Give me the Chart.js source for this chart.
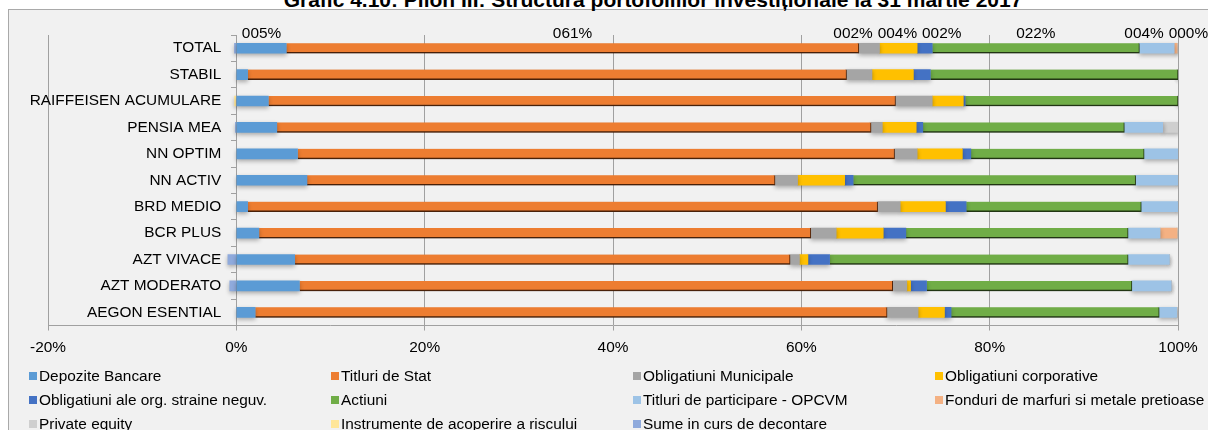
<!DOCTYPE html>
<html>
<head>
<meta charset="utf-8">
<script src="https://cdn.jsdelivr.net/npm/chart.js@4.4.1/dist/chart.umd.min.js"></script>
<style>
  body { margin: 0; background: #fff; width: 1208px; height: 430px; overflow: hidden; position: relative;
         font-family: 'Liberation Sans', Arial, sans-serif; }
  #frame { position: absolute; left: 8px; top: 9px; width: 1300px; height: 500px; border: 1px solid #a9a9a9; background: #f1f1f1; }
  #title { position: absolute; left: 0; width: 1306px; top: -10px; text-align: center; white-space: nowrap;
           font: bold 21px 'Liberation Sans', Arial, sans-serif; line-height: 20px; color: #000; }
  #wrap { position: absolute; left: 0; top: 0; width: 1208px; height: 365px; }
  #legend { position: absolute; left: 29px; top: 364px; display: grid; grid-template-columns: repeat(4, 302px);
            font-size: 15.4px; line-height: 24px; color: #000; }
  .item { display: flex; align-items: center; white-space: nowrap; }
  .box { width: 8px; height: 8px; margin-right: 2px; flex: none; }
</style>
</head>
<body>
<div id="frame"></div>
<div id="title">Grafic 4.10: Pilon III: Structura portofoliilor investiționale la 31 martie 2017</div>
<div id="wrap"><canvas id="chart"></canvas></div>
<div id="legend"></div>
<script>
/* ---- data (percent of portfolio) ---- */
const categories = ['TOTAL', 'STABIL', 'RAIFFEISEN ACUMULARE', 'PENSIA MEA', 'NN OPTIM', 'NN ACTIV',
                    'BRD MEDIO', 'BCR PLUS', 'AZT VIVACE', 'AZT MODERATO', 'AEGON ESENTIAL'];

const depozite    = [5.3, 1.2, 3.4, 4.3, 6.5, 7.5, 1.2, 2.4, 6.2, 6.7, 2.0];
const titluri     = [60.8, 63.6, 66.6, 63.1, 63.4, 49.7, 66.9, 58.6, 52.6, 63.0, 67.1];
const municipale  = [2.2, 2.7, 3.9, 1.2, 2.4, 2.4, 2.4, 2.7, 1.0, 1.5, 3.3];
const corporative = [4.0, 4.4, 3.3, 3.6, 4.8, 5.0, 4.8, 5.0, 0.9, 0.4, 2.8];
const straine     = [1.6, 1.8, 0.2, 0.7, 0.9, 0.9, 2.2, 2.4, 2.3, 1.7, 0.7];
const actiuni     = [22.0, 26.3, 22.6, 21.4, 18.4, 30.0, 18.6, 23.6, 31.7, 21.8, 22.1];
const opcvm       = [3.7, 0, 0, 4.1, 3.7, 4.5, 3.9, 3.4, 4.4, 4.2, 1.9];
const fonduri     = [0.3, 0, 0, 0, 0, 0, 0, 1.8, 0, 0, 0];
const privateEq   = [0.1, 0, 0, 1.7, 0, 0, 0, 0, 0, 0, 0];
const instrumente = [0, 0, -0.2, 0, 0, 0, 0, 0, 0, 0, 0];
const sume        = [-0.2, 0, 0, -0.1, 0, 0, 0, 0, -0.9, -0.7, 0];

const seriesNames = ['Depozite Bancare', 'Titluri de Stat', 'Obligatiuni Municipale', 'Obligatiuni corporative',
                     'Obligatiuni ale org. straine neguv.', 'Actiuni', 'Titluri de participare - OPCVM',
                     'Fonduri de marfuri si metale pretioase', 'Private equity', 'Instrumente de acoperire a riscului',
                     'Sume in curs de decontare'];
const seriesValues = [depozite, titluri, municipale, corporative, straine, actiuni, opcvm,
                      fonduri, privateEq, instrumente, sume];

const xTicks = [-20, 0, 20, 40, 60, 80, 100];

/* ---- styles ---- */
const seriesColors = ['#5B9BD5', '#ED7D31', '#A5A5A5', '#FFC000', '#4472C4', '#70AD47', '#9DC3E6',
                      '#F4B183', '#CFCFCF', '#FFE699', '#8FAADC'];
const edgeColors = { 1: '#5c2a0c', 5: '#2b4419' };
const FONT = "'Liberation Sans', Arial, sans-serif";
const FONT_SIZE = 15.4;
const AXIS_GRAY = '#a0a0a0';

/* Excel style "000%" number format */
function fmtPct(v) {
  return String(Math.round(Math.abs(v))).padStart(3, '0') + '%';
}

/* soft drop shadow under the bars */
const barShadow = {
  id: 'barShadow',
  beforeDatasetsDraw(chart) {
    const c = chart.ctx;
    c.save();
    c.shadowColor = 'rgba(0,0,0,0.30)';
    c.shadowBlur = 4;
    c.shadowOffsetY = 2;
  },
  afterDatasetsDraw(chart) {
    chart.ctx.restore();
  }
};

/* value labels above the first (TOTAL) bar, spread apart when they collide */
const totalLabels = {
  id: 'totalLabels',
  afterDatasetsDraw(chart, args, opts) {
    const c = chart.ctx;
    c.save();
    c.font = FONT_SIZE + 'px ' + FONT;
    c.fillStyle = '#000';
    c.textAlign = 'center';
    c.textBaseline = 'bottom';
    const items = opts.series.map(i => {
      const bar = chart.getDatasetMeta(i).data[opts.row];
      const text = fmtPct(chart.data.datasets[i].data[opts.row]);
      return { x: (bar.x + bar.base) / 2, y: bar.y, text, w: c.measureText(text).width };
    }).sort((a, b) => a.x - b.x);
    for (let it = 0; it < 60; it++) {
      for (let k = 1; k < items.length; k++) {
        const a = items[k - 1], b = items[k];
        const gap = (a.w + b.w) / 2 + 5;
        if (b.x - a.x < gap) {
          const push = (gap - (b.x - a.x)) / 2;
          a.x -= push;
          b.x += push;
        }
      }
    }
    items.forEach(t => c.fillText(t.text, t.x, t.y - 7));
    c.restore();
  }
};

const datasets = seriesNames.map((name, i) => ({
  label: name,
  data: seriesValues[i],
  backgroundColor: seriesColors[i],
  borderColor: edgeColors[i] || seriesColors[i],
  borderWidth: edgeColors[i] ? { top: 0, left: 0, right: 1, bottom: 1.5 } : 0,
  borderSkipped: false
}));

const chart = new Chart(document.getElementById('chart'), {
  type: 'bar',
  data: { labels: categories, datasets },
  options: {
    indexAxis: 'y',
    responsive: true,
    maintainAspectRatio: false,
    animation: false,
    datasets: { bar: { barThickness: 10 } },
    layout: { padding: { top: 35, left: 48, right: 30, bottom: 0 } },
    plugins: {
      legend: { display: false },
      tooltip: { enabled: false },
      totalLabels: { series: [0, 1, 2, 3, 4, 5, 6, 7], row: 0 }
    },
    scales: {
      x: {
        type: 'linear',
        stacked: true,
        min: xTicks[0],
        max: xTicks[xTicks.length - 1],
        afterBuildTicks: s => { s.ticks = xTicks.map(v => ({ value: v })); },
        ticks: { callback: v => v + '%', font: { family: FONT, size: FONT_SIZE }, color: '#000', padding: 8 },
        grid: { color: AXIS_GRAY, tickLength: 5 },
        border: { color: AXIS_GRAY }
      },
      // category names, right-aligned a little left of the 0% line
      y: {
        axis: 'y',
        type: 'category',
        stacked: true,
        offset: true,
        position: { x: -1.6 },
        grid: { display: false },
        border: { display: false },
        ticks: { font: { family: FONT, size: FONT_SIZE }, color: '#000' }
      },
      // the vertical axis line at 0% with its small tick marks
      yAxisLine: {
        axis: 'y',
        type: 'category',
        labels: categories,
        offset: true,
        position: { x: 0 },
        grid: { drawOnChartArea: false, offset: true, tickLength: 5, color: AXIS_GRAY },
        border: { color: AXIS_GRAY },
        ticks: { display: false }
      }
    }
  },
  plugins: [barShadow, totalLabels]
});

/* html legend in four columns */
const legendEl = document.getElementById('legend');
seriesNames.forEach((name, i) => {
  const item = document.createElement('div');
  item.className = 'item';
  const box = document.createElement('span');
  box.className = 'box';
  box.style.background = seriesColors[i];
  item.appendChild(box);
  item.appendChild(document.createTextNode(name));
  legendEl.appendChild(item);
});
</script>
</body>
</html>
